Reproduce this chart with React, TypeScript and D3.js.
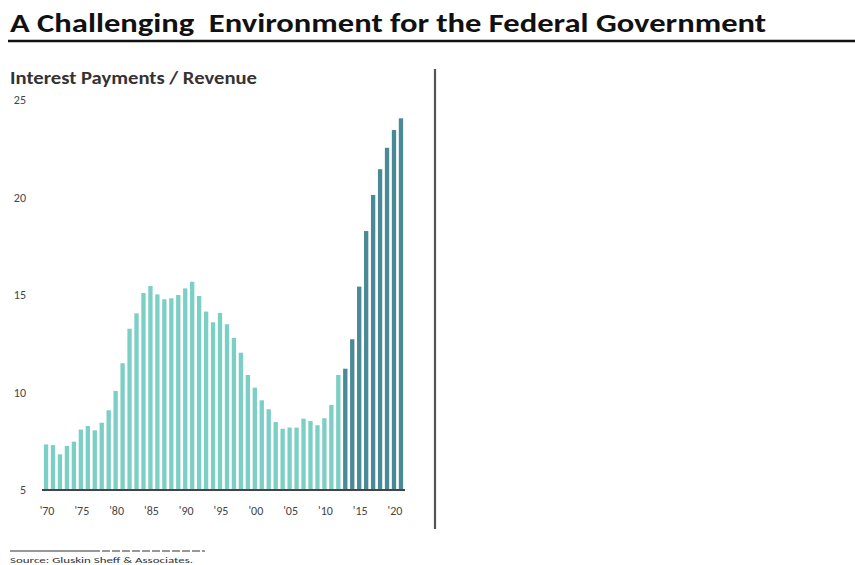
import React from "react";
import * as d3 from "d3";

const years: number[] = d3.range(1970, 2022);
const ratios: number[] = [
  7.34, 7.3, 6.83, 7.26, 7.48, 8.1, 8.28, 8.06, 8.45, 9.09,
  10.08, 11.5, 13.27, 14.06, 15.1, 15.46, 15.03, 14.78, 14.83, 15.0,
  15.34, 15.68, 14.95, 14.15, 13.6, 14.08, 13.5, 12.8, 12.04, 10.9,
  10.25, 9.6, 9.14, 8.49, 8.14, 8.2, 8.2, 8.66, 8.54, 8.32,
  8.68, 9.36, 10.9, 11.22, 12.73, 15.43, 18.28, 20.13, 21.45, 22.55,
  23.46, 24.06,
];
const projectionStart = 2013;
const yTicks: number[] = [5, 10, 15, 20, 25];
const xTickYears: number[] = [1970, 1975, 1980, 1985, 1990, 1995, 2000, 2005, 2010, 2015, 2020];
const titleText = "A Challenging  Environment for the Federal Government";
const subtitleText = "Interest Payments / Revenue";
const sourceText = "Source: Gluskin Sheff & Associates.";

export default function App() {
  const W = 855;
  const H = 565;
  const x = d3
    .scaleBand<number>()
    .domain(years)
    .range([42.5, 404.5])
    .paddingInner(0.38)
    .paddingOuter(0.2);
  const y = d3.scaleLinear().domain([5, 25]).range([490, 100]);
  const font = "Calibri, Carlito, 'Open Sans', sans-serif";

  return (
    <svg
      width={W}
      height={H}
      style={{ position: "absolute", left: 0, top: 0, background: "#fff" }}
    >
      <text
        x={10}
        y={32}
        fontFamily={font}
        fontWeight={700}
        fontSize={27}
        fill="#111"
        textLength={756}
        lengthAdjust="spacingAndGlyphs"
        style={{ whiteSpace: "pre" }}
      >
        {titleText}
      </text>
      <line x1={8} x2={855} y1={41} y2={41} stroke="#111" strokeWidth={2.5} />

      <text
        x={10}
        y={84}
        fontFamily={font}
        fontWeight={700}
        fontSize={17}
        fill="#333"
        textLength={247}
        lengthAdjust="spacingAndGlyphs"
      >
        {subtitleText}
      </text>

      {yTicks.map((t) => (
        <text
          key={t}
          x={26}
          y={y(t)}
          dy="0.35em"
          textAnchor="end"
          fontFamily={font}
          fontSize={12}
          fill="#444"
        >
          {t}
        </text>
      ))}

      {years.map((yr, i) => (
        <rect
          key={yr}
          x={x(yr)}
          y={y(ratios[i])}
          width={x.bandwidth()}
          height={y(5) - y(ratios[i])}
          fill={yr >= projectionStart ? "#4a8996" : "#7ccfc5"}
        />
      ))}

      <line x1={42} x2={405} y1={y(5)} y2={y(5)} stroke="#444" strokeWidth={2} />

      {xTickYears.map((yr) => (
        <text
          key={yr}
          x={(x(yr) ?? 0) + x.bandwidth() / 2 + 1}
          y={511}
          dy="0.35em"
          textAnchor="middle"
          fontFamily={font}
          fontSize={12}
          fill="#444"
        >
          {"'" + String(yr).slice(2)}
        </text>
      ))}

      <line x1={435} x2={435} y1={69} y2={529} stroke="#555" strokeWidth={2.2} />

      <line x1={10} x2={92} y1={551} y2={551} stroke="#333" strokeWidth={1.2} />
      <line
        x1={92}
        x2={205}
        y1={551}
        y2={551}
        stroke="#333"
        strokeWidth={1.2}
        strokeDasharray="8 2"
      />
      <text
        x={10}
        y={563}
        fontFamily={font}
        fontSize={8}
        fill="#333"
        textLength={183}
        lengthAdjust="spacingAndGlyphs"
      >
        {sourceText}
      </text>
    </svg>
  );
}
